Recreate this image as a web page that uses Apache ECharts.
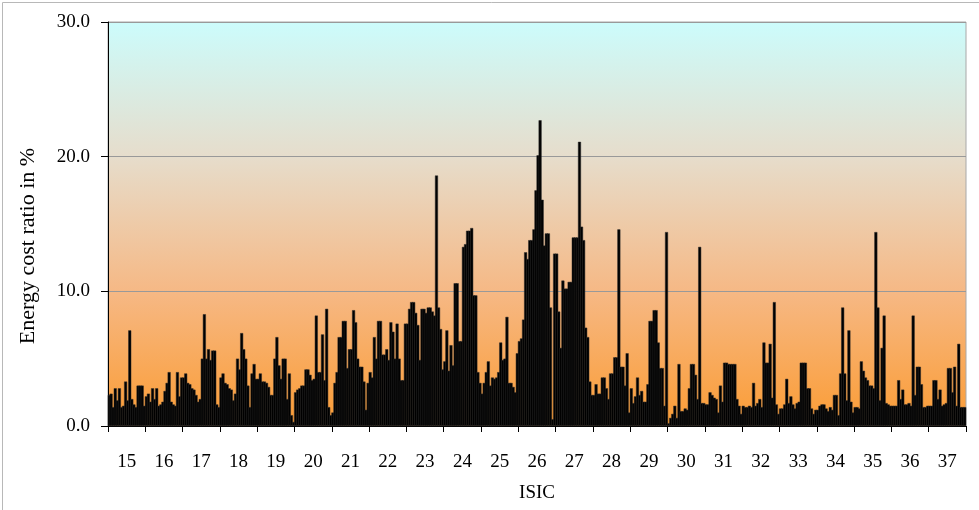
<!DOCTYPE html>
<html>
<head>
<meta charset="utf-8">
<script src="https://cdn.jsdelivr.net/npm/echarts@6/dist/echarts.min.js"></script>
<style>
html,body{margin:0;padding:0;background:#fff;}
#chart{width:979px;height:510px;}
</style>
</head>
<body>
<div id="chart"></div>
<script>
// ISIC tick labels (2-digit groups)
const isicLabels = ['15','16','17','18','19','20','21','22','23','24','25','26','27','28','29','30','31','32','33','34','35','36','37'];

// Energy cost ratio (%) per industry, grouped by ISIC division
const isic15 = [2.3,2.4,1.4,2.8,1.9,2.8,1.4,1.5,3.3,1.9,7.1,2.0,1.6,1.4,3.0,3.0,3.0,1.5];
const isic16 = [2.2,2.4,1.8,2.8,2.0,2.8,1.5,1.6,1.8,2.6,3.2,4.0,1.8,1.6,1.5,4.0,2.2,3.6];
const isic17 = [3.6,3.9,3.2,3.1,2.8,2.7,2.3,1.8,2.0,5.0,8.3,5.0,5.7,4.9,5.6,5.6,1.6,1.4];
const isic18 = [3.6,3.9,3.2,3.1,2.8,2.7,1.9,2.4,5.0,4.2,6.9,5.7,5.0,3.0,1.4,3.9,4.6,3.5];
const isic19 = [3.5,3.9,3.3,3.3,3.2,2.9,2.3,2.3,5.0,6.6,4.5,3.5,5.0,5.0,2.0,3.9,0.8,0.3];
const isic20 = [2.5,2.7,2.8,3.0,3.0,4.2,4.2,3.8,3.4,3.5,8.2,4.0,4.0,6.8,3.4,8.7,1.4,0.8];
const isic21 = [1.0,3.2,4.0,6.6,6.6,7.8,7.8,4.3,5.7,5.7,8.6,7.7,5.0,4.4,4.4,3.3,1.2,3.2];
const isic22 = [4.0,3.6,6.6,5.0,7.8,7.8,5.3,5.3,5.7,4.9,7.7,7.0,5.0,7.6,5.0,3.4,3.4,7.6];
const isic23 = [7.6,8.7,9.2,9.2,8.4,7.5,4.9,8.7,8.7,8.4,8.8,8.8,8.5,8.2,18.6,8.8,7.2,4.2];
const isic24 = [4.8,7.1,4.1,6.0,4.5,10.6,10.6,6.3,6.3,13.3,13.5,14.5,14.5,14.7,9.7,9.7,4.0,3.2];
const isic25 = [2.4,3.2,4.0,4.8,3.0,3.6,3.5,3.6,4.0,6.2,4.9,5.0,8.1,3.2,3.2,2.9,2.5,5.4];
const isic26 = [6.3,6.5,7.9,12.9,12.4,13.8,13.8,14.6,17.5,20.1,22.7,16.8,13.4,14.3,14.3,8.8,0.5,12.8];
const isic27 = [12.8,8.5,5.8,10.8,10.2,10.2,10.7,10.7,14.0,14.0,14.0,21.1,14.8,13.8,7.3,6.6,3.3,2.3];
const isic28 = [2.3,3.1,2.4,2.4,3.6,3.6,2.8,2.0,3.9,3.9,5.1,5.1,14.6,4.4,4.4,3.0,5.4,1.0];
const isic29 = [2.8,1.7,2.2,3.6,2.3,2.6,1.8,1.8,3.1,7.8,7.8,8.6,8.6,6.2,4.3,4.3,1.5,14.4];
const isic30 = [0.2,0.6,0.9,1.5,0.6,4.6,1.1,1.1,1.3,1.2,2.8,4.6,4.6,3.8,2.0,13.3,1.7,1.7];
const isic31 = [1.6,1.6,2.5,2.3,2.1,2.0,1.0,3.0,1.8,4.7,4.7,4.6,4.6,4.6,4.6,2.0,1.5,0.9];
const isic32 = [1.5,1.4,1.4,1.5,1.4,3.2,1.5,1.7,2.0,1.4,6.2,4.7,4.7,6.1,2.1,9.2,1.6,0.9];
const isic33 = [1.3,1.3,1.6,3.5,1.7,2.2,1.6,1.3,1.7,1.8,4.7,4.7,4.7,2.8,2.8,1.3,0.9,1.2];
const isic34 = [1.2,1.5,1.6,1.6,1.3,1.1,1.4,1.2,2.3,2.3,0.8,3.9,8.8,3.9,1.9,7.1,1.8,1.0];
const isic35 = [1.4,1.4,1.3,4.8,4.1,3.6,3.4,3.0,3.0,2.8,14.4,8.8,1.9,5.8,8.2,1.7,1.6,1.5];
const isic36 = [1.5,1.5,1.5,3.4,2.0,2.7,1.6,1.6,1.7,1.5,8.2,2.3,4.4,4.4,3.1,1.4,1.4,1.5];
const isic37 = [1.5,1.5,3.4,3.4,2.0,2.7,1.5,1.6,1.7,4.3,4.3,2.5,4.4,1.5,6.1,1.4,1.4,1.4];

const groups = [isic15,isic16,isic17,isic18,isic19,isic20,isic21,isic22,isic23,isic24,isic25,isic26,isic27,isic28,isic29,isic30,isic31,isic32,isic33,isic34,isic35,isic36,isic37];
const values = [];
const barCats = [];
groups.forEach((g, gi) => g.forEach((v, j) => { values.push(v); barCats.push(isicLabels[gi] + '-' + j); }));

const FONT = "'Liberation Serif', 'DejaVu Serif', serif";
const chart = echarts.init(document.getElementById('chart'), null, {renderer: 'canvas'});
chart.setOption({
  animation: false,
  backgroundColor: '#ffffff',
  graphic: [{
    type: 'rect', left: 0, top: 0, z: -10,
    shape: {x: 0.5, y: 0.5, width: 978, height: 509},
    style: {fill: 'none', stroke: '#b8b8b8', lineWidth: 1}
  }],
  grid: {
    left: 108, right: 13, top: 22, bottom: 84,
    show: true,
    borderColor: '#a8a8a8', borderWidth: 1,
    backgroundColor: {
      type: 'linear', x: 0, y: 0, x2: 0, y2: 1,
      colorStops: [
        {offset: 0, color: '#CCFCFC'},
        {offset: 0.33, color: '#E6DDCC'},
        {offset: 0.67, color: '#F6B884'},
        {offset: 1, color: '#FB9C34'}
      ]
    }
  },
  xAxis: [{
    type: 'category',
    data: barCats,
    position: 'bottom',
    axisLine: {show: true, lineStyle: {color: '#000', width: 1}},
    axisTick: {show: false},
    axisLabel: {show: false},
    splitLine: {show: false}
  }, {
    type: 'category',
    data: isicLabels,
    position: 'bottom',
    axisLine: {show: false},
    axisTick: {show: true, interval: 0, length: 6, lineStyle: {color: '#000'}},
    axisLabel: {interval: 0, margin: 27, color: '#000', fontFamily: FONT, fontSize: 19},
    name: 'ISIC',
    nameLocation: 'middle',
    nameGap: 58,
    nameTextStyle: {color: '#000', fontFamily: FONT, fontSize: 19}
  }],
  yAxis: {
    type: 'value',
    min: 0, max: 30, interval: 10,
    axisLine: {show: true, lineStyle: {color: '#000', width: 1}},
    axisTick: {show: true, length: 7, lineStyle: {color: '#000'}},
    axisLabel: {margin: 18, color: '#000', fontFamily: FONT, fontSize: 19, formatter: v => v.toFixed(1)},
    splitLine: {show: true, lineStyle: {color: '#999', width: 1}},
    name: 'Energy cost ratio in %',
    nameLocation: 'middle',
    nameGap: 69,
    nameTextStyle: {color: '#000', fontFamily: FONT, fontSize: 22, padding: [0, 44, 0, 0]}
  },
  series: [{
    type: 'bar',
    xAxisIndex: 0,
    data: values,
    barWidth: 3,
    itemStyle: {color: '#000', borderColor: '#2a2a2a', borderWidth: 0.5}
  }]
});
</script>
</body>
</html>
